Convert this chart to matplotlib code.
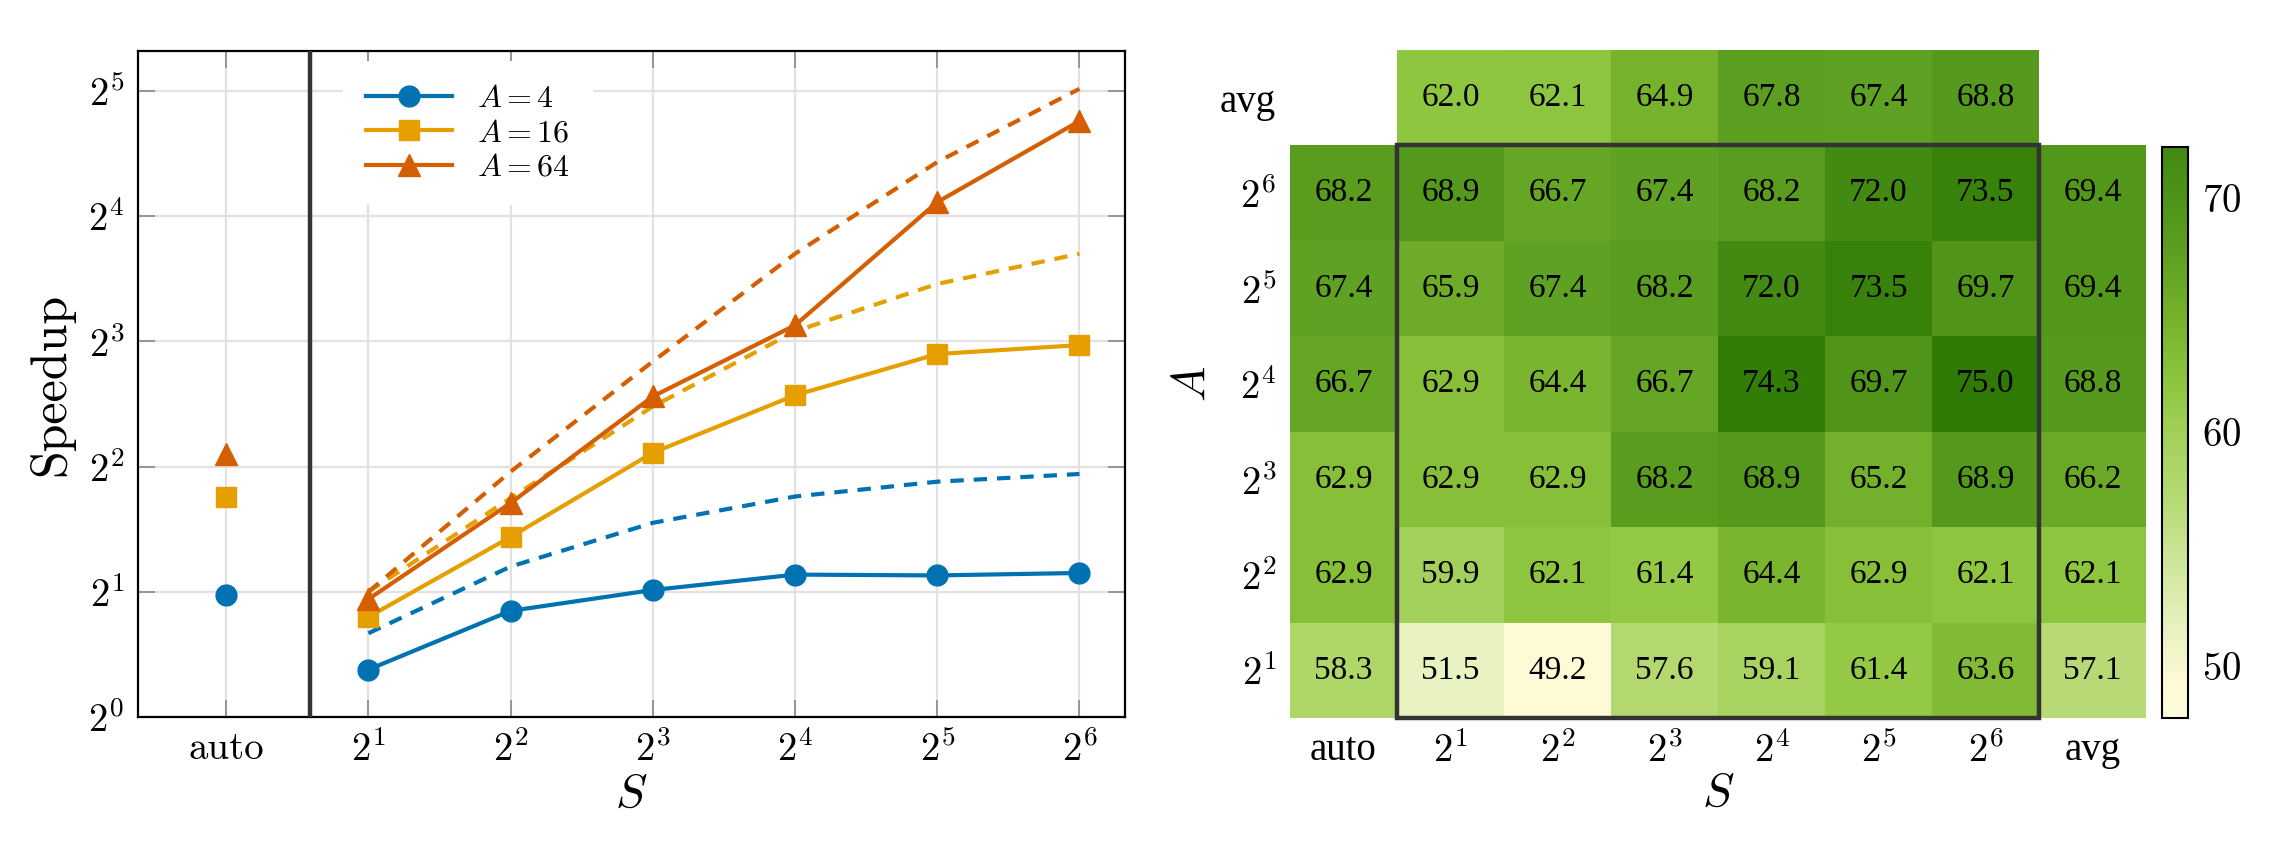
import numpy as np
import matplotlib
matplotlib.use("Agg")
import matplotlib.pyplot as plt
from matplotlib.colors import LinearSegmentedColormap, Normalize
from matplotlib.patches import Rectangle

plt.rcParams['mathtext.fontset'] = 'cm'
plt.rcParams['axes.formatter.use_mathtext'] = True

# ---- left panel: speedup vs S ----
S_labels = ['auto', '$2^{1}$', '$2^{2}$', '$2^{3}$', '$2^{4}$', '$2^{5}$', '$2^{6}$']
A_names = ['$A=4$', '$A=16$', '$A=64$']

speedup_a4 = [1.30, 1.80, 2.02, 2.20, 2.19, 2.22]
speedup_a16 = [1.74, 2.71, 4.32, 5.94, 7.46, 7.84]
speedup_a64 = [1.92, 3.27, 5.90, 8.75, 17.3, 27.1]

ideal_a4 = [1.59, 2.30, 2.93, 3.39, 3.68, 3.84]
ideal_a16 = [2.00, 3.36, 5.58, 8.46, 11.0, 13.0]
ideal_a64 = [2.00, 3.89, 7.16, 13.0, 21.6, 32.4]

auto_speedup = [1.96, 3.39, 4.29]

# ---- right panel: heatmap ----
hm_cols = ['auto', '$2^{1}$', '$2^{2}$', '$2^{3}$', '$2^{4}$', '$2^{5}$', '$2^{6}$', 'avg']
hm_rows = ['$2^{1}$', '$2^{2}$', '$2^{3}$', '$2^{4}$', '$2^{5}$', '$2^{6}$', 'avg']

# rows bottom to top: A = 2^1 .. 2^6, columns S = 2^1 .. 2^6
grid_vals = [
    [51.5, 49.2, 57.6, 59.1, 61.4, 63.6],
    [59.9, 62.1, 61.4, 64.4, 62.9, 62.1],
    [62.9, 62.9, 68.2, 68.9, 65.2, 68.9],
    [62.9, 64.4, 66.7, 74.3, 69.7, 75.0],
    [65.9, 67.4, 68.2, 72.0, 73.5, 69.7],
    [68.9, 66.7, 67.4, 68.2, 72.0, 73.5],
]
auto_col = [58.3, 62.9, 62.9, 66.7, 67.4, 68.2]
avg_col = [57.1, 62.1, 66.2, 68.8, 69.4, 69.4]
avg_row = [62.0, 62.1, 64.9, 67.8, 67.4, 68.8]

colors = ['#0072B2', '#E69F00', '#D55E00']
markers = ['o', 's', '^']

fig = plt.figure(figsize=(22.8, 8.6), dpi=100)
ax = fig.add_axes([138/2280, 1-717/860, (1125-138)/2280, (717-51)/860])

xs = np.arange(1, 7)
solid = [speedup_a4, speedup_a16, speedup_a64]
dashed = [ideal_a4, ideal_a16, ideal_a64]
for i in range(3):
    ax.plot(xs, dashed[i], color=colors[i], lw=3, dashes=(3.2, 2.4), zorder=3)
for i in range(3):
    ms = 15 if markers[i] != '^' else 16
    ax.plot(xs, solid[i], color=colors[i], lw=3, marker=markers[i],
            ms=ms, label=A_names[i], zorder=4)
    ax.plot([0], [auto_speedup[i]], color=colors[i], marker=markers[i],
            ms=ms, ls='none', zorder=4)

ax.axvline(0.59, color='#333333', lw=3.2, zorder=5)
ax.set_yscale('log', base=2)
ax.set_ylim(1, 2**5.32)
ax.set_xlim(-0.62, 6.32)
ax.set_yticks([2**k for k in range(6)])
ax.set_yticklabels(['$2^{%d}$' % k for k in range(6)])
ax.yaxis.set_minor_locator(matplotlib.ticker.NullLocator())
ax.set_xticks(np.arange(7))
ax.set_xticklabels(S_labels)
ax.xaxis.get_ticklabels()[0].set_fontfamily('cmr10')
ax.grid(color='#e2e2e2', lw=1.6)
ax.set_axisbelow(True)
ax.tick_params(direction='in', length=12, width=1.2, color='#888888',
               top=True, right=True, labelsize=28, pad=10)
for sp in ax.spines.values():
    sp.set_linewidth(1.6)
ax.set_ylabel('Speedup', fontsize=36, family='cmr10', labelpad=10)
ax.set_xlabel('$S$', fontsize=34, labelpad=2)

leg = ax.legend(loc='upper left', bbox_to_anchor=(0.208, 0.985), borderaxespad=0,
                fontsize=23, handlelength=2.7, labelspacing=0.1, borderpad=0.7,
                handletextpad=0.8, frameon=True, fancybox=False, framealpha=1)
leg.get_frame().set_edgecolor('none')

# heatmap
stops = [(47.8, '#fffcdc'), (49.2, '#fefad6'), (51.5, '#e8f2c0'), (57.6, '#b2d86f'),
         (59.9, '#a3d05a'), (62.0, '#8fc63f'), (64.9, '#76b22c'), (67.8, '#5c9e20'),
         (72.0, '#428a11'), (75.0, '#2e7a05')]
lo, hi = 47.8, 75.0
cmap = LinearSegmentedColormap.from_list('grn', [((v - lo) / (hi - lo), c) for v, c in stops])
norm = Normalize(lo, hi)

Z = np.full((7, 8), np.nan)
Z[:6, 1:7] = np.array(grid_vals)
Z[:6, 0] = auto_col
Z[:6, 7] = avg_col
Z[6, 1:7] = avg_row
Zm = np.ma.masked_invalid(Z)

hx = fig.add_axes([1290/2280, 1-718/860, 856/2280, 668/860])
mesh = hx.pcolormesh(np.arange(9), np.arange(8), Zm, cmap=cmap, norm=norm)
for r in range(7):
    for c in range(8):
        if not np.isnan(Z[r, c]):
            hx.text(c + 0.5, r + 0.5, '%.1f' % Z[r, c], ha='center', va='center',
                    fontsize=24, family='Liberation Serif')
hx.add_patch(Rectangle((1, 0), 6, 6, fill=False, ec='#333333', lw=3.2, clip_on=False, zorder=5))
hx.set_xlim(0, 8)
hx.set_ylim(0, 7)
for sp in hx.spines.values():
    sp.set_visible(False)
hx.set_xticks(np.arange(8) + 0.5)
hx.set_xticklabels(hm_cols)
hx.set_yticks(np.arange(7) + 0.5)
hx.set_yticklabels(hm_rows)
hx.tick_params(length=0, labelsize=28, pad=10)
for t in hx.get_xticklabels() + hx.get_yticklabels():
    if not t.get_text().startswith('$'):
        t.set_fontfamily('Liberation Serif')
hx.set_xlabel('$S$', fontsize=34, labelpad=0)
hx.set_ylabel('$A$', fontsize=34, labelpad=4)

cax = fig.add_axes([2162/2280, 1-718/860, 26/2280, 571/860])
cbar = fig.colorbar(mesh, cax=cax)
cax.set_ylim(47.8, 72.2)
cbar.set_ticks([50, 60, 70])
cax.tick_params(length=0, labelsize=28, pad=10)
for t in cax.get_yticklabels():
    t.set_fontfamily('cmr10')
cbar.outline.set_linewidth(1.5)

fig.savefig('out.png', dpi=100)
